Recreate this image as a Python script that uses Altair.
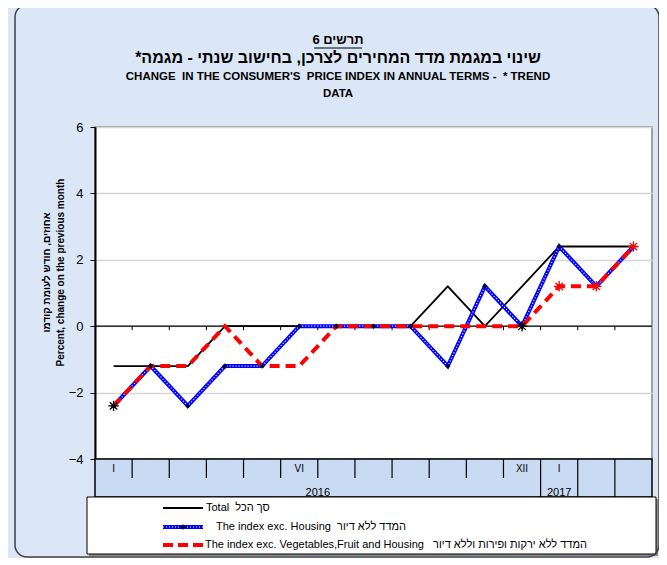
import altair as alt
import pandas as pd

# ---------------- data ----------------
months = ["I", "II", "III", "IV", "V", "VI", "VII", "VIII", "IX", "X", "XI", "XII", "I", "II", "III"]
axis_labels = ["I", "", "", "", "", "VI", "", "", "", "", "", "XII", "I", "", ""]
total = [-1.2, -1.2, -1.2, 0, 0, 0, 0, 0, 0, 1.2, 0, 1.2, 2.4, 2.4, 2.4]
exc_housing = [-2.4, -1.2, -2.4, -1.2, -1.2, 0, 0, 0, 0, -1.2, 1.2, 0, 2.4, 1.2, 2.4]
exc_veg_housing = [-2.4, -1.2, -1.2, 0, -1.2, -1.2, 0, 0, 0, 0, 0, 0, 1.2, 1.2, 2.4]
star_points = [0, 11, 12, 13, 14]
star_colors = ["#000000", "#000000", "#ff0000", "#ff0000", "#ff0000"]
year_labels = ["2016", "2017"]
short_separators = list(range(1, 12))
full_separators = [12, 13, 14]
zero_ticks = list(range(1, 15))
y_ticks = [-4, -2, 0, 2, 4, 6]

NB = "\u00a0"
title_lines = [
    "תרשים 6",
    "שינוי במגמת מדד המחירים לצרכן, בחישוב שנתי - מגמה*\u200f",
    "CHANGE " + NB + "IN THE CONSUMER'S " + NB + "PRICE INDEX IN ANNUAL TERMS - " + NB + "* TREND",
    "DATA",
]
y_title = ["אחוזים, חודש לעומת קודמו", "Percent, change on the previous month"]
legend_texts = [
    "Total " + NB + "סך הכל",
    "The index exc. Housing " + NB + "המדד ללא דיור",
    "The index exc. Vegetables,Fruit and Housing " + NB + NB + "המדד ללא ירקות ופירות וללא דיור",
]

FONT = "Liberation Sans"
W, H = 557, 332

df = pd.DataFrame({"idx": list(range(len(months))), "month": months, "lab": axis_labels,
                   "total": total, "exc_housing": exc_housing, "exc_veg": exc_veg_housing})
stars_df = pd.DataFrame({"idx": star_points, "v": [exc_veg_housing[i] for i in star_points], "c": star_colors})
one = pd.DataFrame({"k": [0]})
short_df = pd.DataFrame({"idx": short_separators})
sep_df = pd.DataFrame({"idx": full_separators})
zt_df = pd.DataFrame({"idx": zero_ticks})

xscale = alt.Scale(type="band", paddingInner=0, paddingOuter=0)
yscale = alt.Scale(domain=[-4, 6], nice=False, zero=False)

y_main = alt.Y("total:Q", scale=yscale, title=y_title,
               axis=alt.Axis(values=y_ticks, grid=True, gridColor="#d6d6d6", gridWidth=1.5,
                             domainColor="black", domainWidth=2, tickColor="black", tickSize=5,
                             labelFontSize=13, labelFont=FONT, labelColor="black", labelPadding=7,
                             titleFont=FONT, titleFontSize=10, titleFontWeight="bold", titleColor="black",
                             titleAngle=270, titleX=-54, titleY=145, titleAlign="center",
                             titleBaseline="top", titleLineHeight=14))

xs = alt.X("idx:O", scale=xscale, axis=None, title=None)
xb = alt.X("idx:O", scale=xscale, bandPosition=0, axis=None, title=None)
xc = alt.X("idx:O", scale=xscale, bandPosition=0.5, axis=None, title=None)

base = alt.Chart(df)

frame = alt.Chart(one).mark_rect(fillOpacity=0, stroke="#404040", strokeWidth=1.5, cornerRadius=12).encode(
    x=alt.value(-80), x2=alt.value(W + 7), y=alt.value(-122), y2=alt.value(H + 98))

BOX = "#c9dbf2"
cat_top = alt.Chart(one).mark_rect(color=BOX, opacity=1, strokeWidth=0).encode(
    x=alt.value(0), x2=alt.value(W), y=alt.value(H), y2=alt.value(H + 20))
cat_bot = alt.Chart(one).mark_rect(color=BOX, opacity=1, strokeWidth=0).encode(
    x=alt.value(0), x2=alt.value(W), y=alt.value(H + 19), y2=alt.value(H + 38))
cat_edges = alt.Chart(one).mark_rect(fillOpacity=0, stroke="black", strokeWidth=1.5).encode(
    x=alt.value(0), x2=alt.value(W), y=alt.value(H), y2=alt.value(H + 38))
short_seps = alt.Chart(short_df).mark_rule(color="black", strokeWidth=1.2).encode(
    x=xb, y=alt.value(H), y2=alt.value(H + 19))
seps = alt.Chart(sep_df).mark_rule(color="black", strokeWidth=1.2).encode(
    x=xb, y=alt.value(H), y2=alt.value(H + 38))
month_text = base.mark_text(font=FONT, fontSize=10, color="black", baseline="middle").encode(
    x=xc, y=alt.value(H + 10), text="lab:N")

year16 = alt.Chart(pd.DataFrame({"idx": [6], "t": [year_labels[0]]})).mark_text(
    font=FONT, fontSize=11, color="black", baseline="middle").encode(
    x=xb, y=alt.value(H + 34), text="t:N")
year17 = alt.Chart(pd.DataFrame({"idx": [12], "t": [year_labels[1]]})).mark_text(
    font=FONT, fontSize=11, color="black", baseline="middle").encode(
    x=xc, y=alt.value(H + 34), text="t:N")

zero_line = alt.Chart(one).mark_rule(color="black", strokeWidth=1.2).encode(y=alt.datum(0))
zero_tick = alt.Chart(zt_df).mark_rule(color="black", strokeWidth=1, y2Offset=4).encode(
    x=xb, y=alt.datum(0), y2=alt.datum(0))

l_total = base.mark_line(color="black", strokeWidth=1.8).encode(x=xc, y=y_main)
l_blue = base.mark_line(color="#0000ff", strokeWidth=4).encode(x=xc, y=alt.Y("exc_housing:Q", scale=yscale))
l_blue_dots = base.mark_line(color="white", strokeWidth=1.2, strokeDash=[1, 2]).encode(
    x=xc, y=alt.Y("exc_housing:Q", scale=yscale))
l_red = base.mark_line(color="#ff0000", strokeWidth=4, strokeDash=[10, 6]).encode(
    x=xc, y=alt.Y("exc_veg:Q", scale=yscale))
diamonds = base.mark_point(shape="diamond", filled=True, color="#000033", size=30, opacity=1).encode(
    x=xc, y=alt.Y("exc_housing:Q", scale=yscale))
ASTERISK = "M-1,0L1,0M0,-1L0,1M-0.7,-0.7L0.7,0.7M-0.7,0.7L0.7,-0.7"
stars = alt.Chart(stars_df).mark_point(shape=ASTERISK, filled=False, size=110, strokeWidth=1.3, opacity=1).encode(
    x=xc, y=alt.Y("v:Q", scale=yscale), color=alt.Color("c:N", scale=None))

# titles
cx = 243
def txt(s, y, size, weight="bold"):
    return alt.Chart(one).mark_text(font=FONT, fontSize=size, fontWeight=weight, color="black",
                                    baseline="middle", align="center").encode(
        x=alt.value(cx), y=alt.value(y), text=alt.value(s))

t1 = txt(title_lines[0], -87, 13)
t1u = alt.Chart(one).mark_rule(color="black", strokeWidth=1).encode(
    x=alt.value(cx - 24), x2=alt.value(cx + 24), y=alt.value(-79))
t2 = txt(title_lines[1], -69, 16)
t3 = txt(title_lines[2], -50, 11.5)
t4 = txt(title_lines[3], -33, 11.5)

# legend
lg_shadow = alt.Chart(one).mark_rect(fill="#8a8a8a").encode(
    x=alt.value(-6), x2=alt.value(W + 6), y=alt.value(H + 40), y2=alt.value(H + 97))
lg_box = alt.Chart(one).mark_rect(fill="white", stroke="black", strokeWidth=1).encode(
    x=alt.value(-8), x2=alt.value(W + 4), y=alt.value(H + 38), y2=alt.value(H + 95))
ry = [H + 49, H + 68, H + 86]
lg1 = alt.Chart(one).mark_rule(color="black", strokeWidth=2).encode(
    x=alt.value(68), x2=alt.value(108), y=alt.value(ry[0]))
lg2a = alt.Chart(one).mark_rule(color="#0000ff", strokeWidth=4).encode(
    x=alt.value(68), x2=alt.value(108), y=alt.value(ry[1]))
lg2b = alt.Chart(one).mark_rule(color="white", strokeWidth=1.2, strokeDash=[1, 2]).encode(
    x=alt.value(68), x2=alt.value(108), y=alt.value(ry[1]))
lg2c = alt.Chart(one).mark_point(shape="diamond", filled=True, color="#000033", size=30, opacity=1).encode(
    x=alt.value(88), y=alt.value(ry[1]))
lg3 = alt.Chart(one).mark_rule(color="#ff0000", strokeWidth=4, strokeDash=[10, 5]).encode(
    x=alt.value(68), x2=alt.value(108), y=alt.value(ry[2]))

def ltxt(s, x, y):
    return alt.Chart(one).mark_text(font=FONT, fontSize=11, color="black", baseline="middle",
                                    align="left").encode(x=alt.value(x), y=alt.value(y), text=alt.value(s))

lt1 = ltxt(legend_texts[0], 111, ry[0])
lt2 = ltxt(legend_texts[1], 121, ry[1])
lt3 = ltxt(legend_texts[2], 110, ry[2])

chart = alt.layer(
    zero_line, zero_tick,
    l_total, l_blue, l_blue_dots, l_red, diamonds, stars,
    cat_top, cat_bot, cat_edges, short_seps, seps, month_text, year16, year17,
    t1, t1u, t2, t3, t4,
    lg_shadow, lg_box, lg1, lg2a, lg2b, lg2c, lg3, lt1, lt2, lt3,
    frame,
).properties(
    width=W, height=H,
    autosize=alt.AutoSizeParams(type="none"),
    padding={"left": 87, "top": 119, "right": 7, "bottom": 99},
    background="#dbe7f7",
).configure_view(
    fill="white", stroke="#a0a0a0", strokeWidth=2
)

chart.save("out.html", embed_options={"renderer": "svg", "actions": False})
